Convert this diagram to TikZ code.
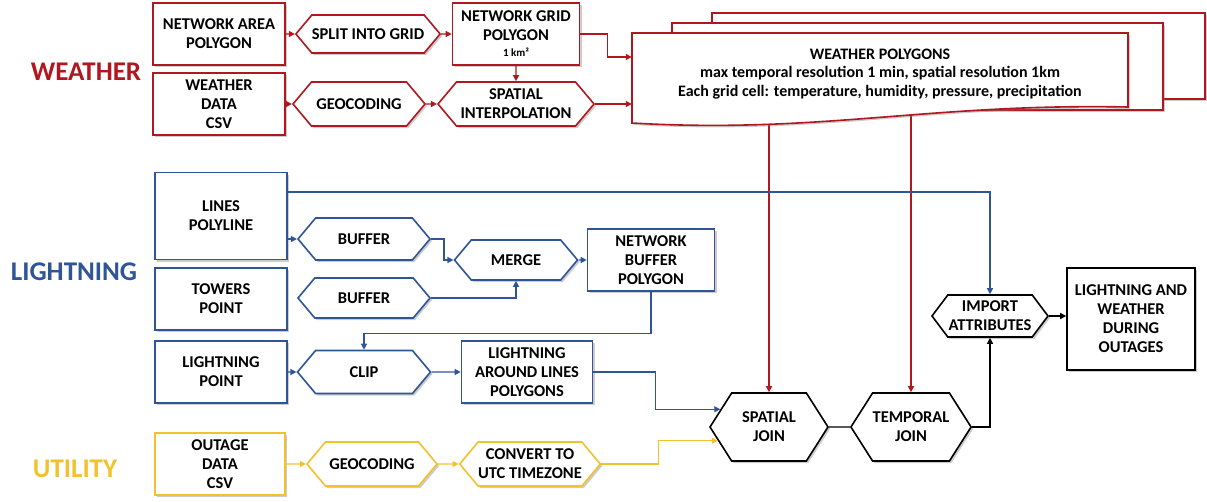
\documentclass[tikz,border=0pt]{standalone}
\usepackage{fontspec}
\setmainfont{Carlito}
\usetikzlibrary{shapes.symbols,arrows.meta,shadows}
\definecolor{wred}{HTML}{B0171F}
\definecolor{lblue}{HTML}{2F5597}
\definecolor{uyel}{HTML}{F2C12E}
\pgfdeclarelayer{bg}
\pgfsetlayers{bg,main}

\begin{document}
\begin{tikzpicture}[x=1pt,y=-1pt,
  every node/.style={font=\fontsize{16.5}{19}\selectfont\bfseries,align=center,inner sep=1pt},
  dropsh/.style={drop shadow={shadow xshift=2pt,shadow yshift=-2pt,opacity=.4}},
  databox/.style={draw=#1,line width=1.6pt,fill=white,minimum width=132,minimum height=62,dropsh},
  hexa/.style={signal,signal to=west and east,signal pointer angle=100,draw=#1,line width=1.6pt,fill=white,inner sep=0pt,dropsh},
  sectlabel/.style={text=#1,font=\fontsize{27}{30}\selectfont\bfseries},
  flow/.style={draw=#1,line width=1.3pt,-{Triangle[length=6pt,width=6pt]}},
  card/.style={draw=wred,line width=1.6pt,fill=white,dropsh}]
\useasboundingbox (0,0) rectangle (1207,501);

% section labels
\node[sectlabel=wred] (wlabel) at (86,72) {WEATHER};
\node[sectlabel=lblue] (llabel) at (74,272) {LIGHTNING};
\node[sectlabel=uyel] (ulabel) at (75,469) {UTILITY};

% weather
\node[databox=wred] (netarea) at (219,34) {NETWORK AREA\\POLYGON};
\node[hexa=wred,minimum width=143,minimum height=38] (split) at (368,34) {SPLIT INTO GRID};
\node[databox=wred,minimum width=127] (netgrid) at (516,34) {NETWORK GRID\\POLYGON\\[-3pt]{\fontsize{11}{12}\selectfont 1 km²}};
\node[databox=wred] (wdata) at (219,104) {WEATHER\\DATA\\CSV};
\node[hexa=wred,minimum width=132,minimum height=44] (geow) at (359,104) {GEOCODING};
\node[hexa=wred,minimum width=156,minimum height=44] (interp) at (516,104) {SPATIAL\\INTERPOLATION};

% stacked weather polygons
\path[card] (712,13) rectangle (1205,99);
\path[card] (672,23) rectangle (1163,110);
\path[card] (632,33) -- (1128,33) -- (1128,107) .. controls (930,103) and (820,134) .. (632,123) -- cycle;
\node[minimum width=496,minimum height=78,font=\fontsize{16}{18.5}\selectfont\bfseries] (wpolys) at (880,74) {WEATHER POLYGONS\\max temporal resolution 1 min, spatial resolution 1km\\Each grid cell: temperature, humidity, pressure, precipitation};

% lightning
\node[databox=lblue,minimum height=87] (lines) at (221,216) {LINES\\POLYLINE};
\node[hexa=lblue,minimum width=132,minimum height=42] (buf1) at (364,239) {BUFFER};
\node[databox=lblue] (towers) at (221,299) {TOWERS\\POINT};
\node[hexa=lblue,minimum width=132,minimum height=40] (buf2) at (364,298) {BUFFER};
\node[hexa=lblue,minimum width=123,minimum height=40] (merge) at (516,260) {MERGE};
\node[databox=lblue,minimum width=127] (netbuf) at (651,260) {NETWORK\\BUFFER\\POLYGON};
\node[databox=lblue] (lpoint) at (221,372) {LIGHTNING\\POINT};
\node[hexa=lblue,minimum width=133,minimum height=43] (clip) at (364,372) {CLIP};
\node[databox=lblue,minimum width=131] (around) at (527,372) {LIGHTNING\\AROUND LINES\\POLYGONS};

% utility
\node[databox=uyel,minimum width=130] (outage) at (220,464) {OUTAGE\\DATA\\CSV};
\node[hexa=uyel,minimum width=130,minimum height=44] (geou) at (372,464) {GEOCODING};
\node[hexa=uyel,minimum width=140,minimum height=44] (utc) at (530,464) {CONVERT TO\\UTC TIMEZONE};

% joins and result
\node[hexa=black,signal pointer angle=115,minimum width=118,minimum height=68] (sjoin) at (769,427) {SPATIAL\\JOIN};
\node[hexa=black,signal pointer angle=115,minimum width=118,minimum height=68] (tjoin) at (911,427) {TEMPORAL\\JOIN};
\node[hexa=black,signal pointer angle=106,minimum width=116,minimum height=42] (import) at (990,316) {IMPORT\\ATTRIBUTES};
\node[databox=black,minimum width=128,minimum height=102] (result) at (1131,319) {LIGHTNING AND\\WEATHER\\DURING\\OUTAGES};

% connectors
\draw[flow=wred] (netarea) -- (split);
\draw[flow=wred] (split) -- (netgrid);
\draw[flow=wred] (netgrid) -- (interp);
\draw[flow=wred] (wdata) -- (geow);
\draw[flow=wred] (geow) -- (interp);
\draw[flow=wred] (netgrid.east) -- ++(27,0) |- ([yshift=17pt]wpolys.west);
\draw[flow=wred] (interp.east) -- (interp.east -| wpolys.west);
\begin{pgfonlayer}{bg}
\draw[flow=wred] (sjoin.north |- wpolys) -- (sjoin.north);
\draw[flow=wred] (tjoin.north |- wpolys) -- (tjoin.north);
\end{pgfonlayer}

\draw[flow=lblue] (lines.east |- buf1.west) -- (buf1.west);
\draw[flow=lblue] ([yshift=24pt]lines.east) -| (import.north);
\draw[flow=lblue] (buf1.east) -- ++(13,0) |- (merge.west);
\draw[flow=lblue] (buf2.east) -| (merge.south);
\draw[flow=lblue] (merge) -- (netbuf);
\draw[flow=lblue] (netbuf.south) -- ++(0,42) -| (clip.north);
\draw[flow=lblue] (lpoint) -- (clip);
\draw[flow=lblue] (clip) -- (around);
\draw[flow=lblue] (around.east) -- ++(62,0) |- (sjoin.160);

\draw[flow=uyel] (outage) -- (geou);
\draw[flow=uyel] (geou) -- (utc);
\draw[flow=uyel] (utc.east) -- ++(57,0) |- (sjoin.195);

\draw[black,line width=1.3pt] (sjoin) -- (tjoin);
\draw[flow=black] (tjoin.east) -| (import.south);
\draw[flow=black] (import.east) -- (import.east -| result.west);
\end{tikzpicture}
\end{document}
